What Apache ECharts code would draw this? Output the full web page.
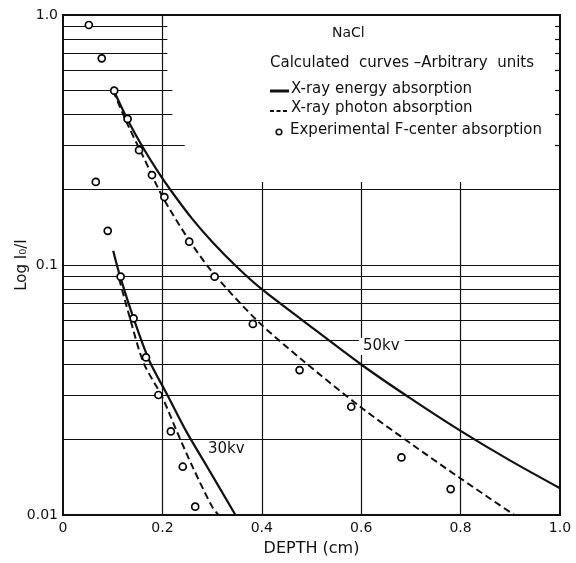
<!DOCTYPE html>
<html><head><meta charset="utf-8">
<script src="https://cdn.jsdelivr.net/npm/echarts@6/dist/echarts.min.js"></script>
<style>html,body{margin:0;padding:0;background:#fff}#c{width:576px;height:563px}</style>
</head><body><div id="c"></div>
<script>
const FONT = 'DejaVu Sans';
const INK = '#111';

// Axis ticks
const xTickLabels = {0: '0', 0.2: '0.2', 0.4: '0.4', 0.6: '0.6', 0.8: '0.8', 1: '1.0'};
const yTickLabels = {0.01: '0.01', 0.1: '0.1', 1: '1.0'};

// 50 kv calculated curves
const kv50EnergyX = [0.102, 0.13, 0.16, 0.19, 0.22, 0.26, 0.30, 0.35, 0.40, 0.48, 0.60, 0.70, 0.80, 0.90, 1.0];
const kv50EnergyY = [0.50, 0.381, 0.297, 0.238, 0.195, 0.153, 0.124, 0.0982, 0.080, 0.0605, 0.040, 0.0292, 0.0217, 0.0165, 0.0128];
const kv50PhotonX = [0.101, 0.13, 0.16, 0.20, 0.25, 0.30, 0.39, 0.48, 0.60, 0.70, 0.80, 0.908];
const kv50PhotonY = [0.496, 0.365, 0.275, 0.188, 0.129, 0.094, 0.0601, 0.0419, 0.0269, 0.0193, 0.0140, 0.0100];

// 30 kv calculated curves
const kv30EnergyX = [0.101, 0.115, 0.142, 0.173, 0.21, 0.248, 0.29, 0.347];
const kv30EnergyY = [0.114, 0.0898, 0.0612, 0.0417, 0.0302, 0.0216, 0.0156, 0.010];
const kv30PhotonX = [0.113, 0.135, 0.162, 0.199, 0.229, 0.262, 0.300, 0.313];
const kv30PhotonY = [0.088, 0.061, 0.0407, 0.0298, 0.0216, 0.0154, 0.0108, 0.010];

// Experimental F-center absorption
const expX = [0.052, 0.066, 0.078, 0.090, 0.103, 0.116, 0.130, 0.142, 0.153, 0.167, 0.179, 0.192, 0.204, 0.217, 0.241, 0.254, 0.266, 0.305, 0.382, 0.476, 0.580, 0.681, 0.780];
const expY = [0.912, 0.215, 0.671, 0.137, 0.498, 0.0898, 0.384, 0.0612, 0.288, 0.0427, 0.229, 0.0302, 0.187, 0.0216, 0.0156, 0.124, 0.0108, 0.0898, 0.0581, 0.038, 0.0271, 0.0170, 0.0127];

// Grid rulings (value units)
const upperMinorY = [0.9, 0.8, 0.7, 0.6, 0.5, 0.4, 0.3];
const upperMinorEnd = [0.21, 0.21, 0.21, 0.21, 0.22, 0.22, 0.245];
const rightTickStart = 0.99;
const fullMinorY = [0.2, 0.09, 0.08, 0.07, 0.06, 0.05, 0.04, 0.03, 0.02];
const vGridX = [0.2, 0.4, 0.6, 0.8];
const vGridTop = [1, 0.215, 0.215, 0.215];

const zip = (xs, ys) => xs.map((x, i) => [x, ys[i]]);

const rulings = [];
upperMinorY.forEach((y, i) => rulings.push([{coord: [0, y]}, {coord: [upperMinorEnd[i], y]}]));
upperMinorY.forEach((y) => rulings.push([{coord: [rightTickStart, y]}, {coord: [1, y]}]));
fullMinorY.forEach((y) => rulings.push([{coord: [0, y]}, {coord: [1, y]}]));
vGridX.forEach((x, i) => rulings.push([{coord: [x, 0.01]}, {coord: [x, vGridTop[i]]}]));

const solidStyle = {color: INK, width: 2.2, type: 'solid'};
const dashStyle = {color: INK, width: 2, type: [7, 4]};

const chart = echarts.init(document.getElementById('c'), null, {renderer: 'canvas'});
chart.setOption({
  backgroundColor: '#fff',
  animation: false,
  textStyle: {fontFamily: FONT, color: INK},
  grid: {left: 63, right: 16, top: 15, bottom: 48, show: true, borderColor: INK, borderWidth: 2, backgroundColor: 'transparent'},
  xAxis: {
    type: 'value', min: 0, max: 1, interval: 0.2,
    name: 'DEPTH (cm)', nameLocation: 'middle', nameGap: 26,
    nameTextStyle: {fontFamily: FONT, fontSize: 16, color: INK},
    axisLine: {show: true, lineStyle: {color: INK, width: 2}},
    axisTick: {show: false},
    splitLine: {show: false},
    axisLabel: {fontFamily: FONT, fontSize: 14, color: INK, margin: 6,
      formatter: v => xTickLabels[Math.round(v * 10) / 10] ?? ''}
  },
  yAxis: {
    type: 'log', logBase: 10, min: 0.01, max: 1,
    name: 'Log I\u2080/I', nameLocation: 'middle', nameGap: 33, nameRotate: 90, nameMoveOverlap: false,
    nameTextStyle: {fontFamily: FONT, fontSize: 15, color: INK},
    axisLine: {show: true, lineStyle: {color: INK, width: 2}},
    axisTick: {show: false},
    splitLine: {show: true, lineStyle: {color: INK, width: 1.2}},
    axisLabel: {fontFamily: FONT, fontSize: 14, color: INK, margin: 5,
      formatter: v => {
        for (const k in yTickLabels) { if (Math.abs(Math.log10(v) - Math.log10(+k)) < 1e-6) return yTickLabels[k]; }
        return '';
      }}
  },
  series: [
    {type: 'line', name: 'rulings', data: [[0, 0.01]], symbol: 'none', lineStyle: {width: 0}, silent: true, z: 1,
      markLine: {silent: true, symbol: ['none', 'none'], label: {show: false},
        lineStyle: {color: INK, width: 1.2, type: 'solid'}, data: rulings}},
    {type: 'line', name: '50kv energy', data: zip(kv50EnergyX, kv50EnergyY), symbol: 'none', smooth: 0.3, lineStyle: solidStyle, z: 3},
    {type: 'line', name: '50kv photon', data: zip(kv50PhotonX, kv50PhotonY), symbol: 'none', smooth: 0.3, lineStyle: dashStyle, z: 3},
    {type: 'line', name: '30kv energy', data: zip(kv30EnergyX, kv30EnergyY), symbol: 'none', smooth: 0.3, lineStyle: solidStyle, z: 3},
    {type: 'line', name: '30kv photon', data: zip(kv30PhotonX, kv30PhotonY), symbol: 'none', smooth: 0.3, lineStyle: dashStyle, z: 3},
    {type: 'scatter', name: 'Experimental', data: zip(expX, expY), symbol: 'circle', symbolSize: 7,
      itemStyle: {color: '#fff', borderColor: '#000', borderWidth: 1.7, opacity: 1}, z: 5}
  ],
  graphic: [
    {type: 'text', left: 332, top: 26, style: {text: 'NaCl', font: '14px "DejaVu Sans"', fill: INK}},
    {type: 'text', left: 270, top: 56, style: {text: 'Calculated  curves \u2013Arbitrary  units', font: '15px "DejaVu Sans"', fill: INK}},
    {type: 'line', shape: {x1: 270, y1: 91, x2: 289, y2: 91}, style: {stroke: INK, lineWidth: 3}},
    {type: 'text', left: 291, top: 82, style: {text: 'X-ray energy absorption', font: '15px "DejaVu Sans"', fill: INK}},
    {type: 'line', shape: {x1: 270, y1: 111, x2: 289, y2: 111}, style: {stroke: INK, lineWidth: 2, lineDash: [4, 2.5]}},
    {type: 'text', left: 291, top: 101, style: {text: 'X-ray photon absorption', font: '15px "DejaVu Sans"', fill: INK}},
    {type: 'circle', shape: {cx: 279, cy: 132, r: 2.8}, style: {fill: '#fff', stroke: INK, lineWidth: 1.6}},
    {type: 'text', left: 290, top: 123, style: {text: 'Experimental F-center absorption', font: '15px "DejaVu Sans"', fill: INK}},
    {type: 'text', left: 359, top: 338, z: 10, style: {text: '50kv', font: '15px "DejaVu Sans"', fill: INK, backgroundColor: '#fff', padding: [1, 5, 1, 4]}},
    {type: 'text', left: 204, top: 441, z: 10, style: {text: '30kv', font: '15px "DejaVu Sans"', fill: INK, backgroundColor: '#fff', padding: [1, 4, 1, 4]}}
  ]
});
</script>
</body></html>
